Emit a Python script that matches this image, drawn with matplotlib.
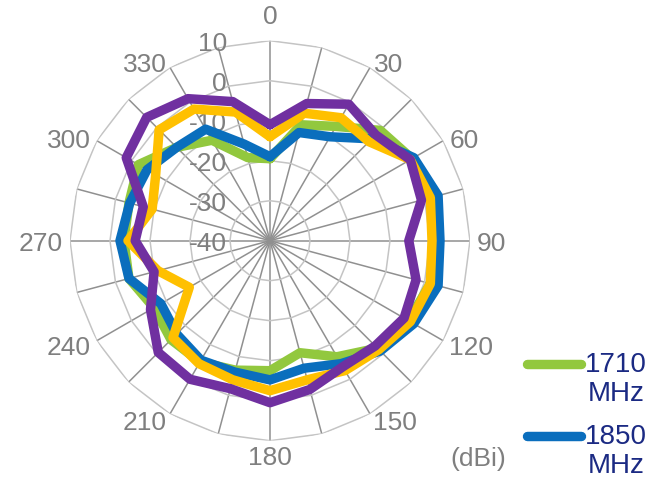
import numpy as np
import matplotlib
matplotlib.use("Agg")
import matplotlib.pyplot as plt
from matplotlib.transforms import offset_copy
from matplotlib.lines import Line2D

plt.rcParams['font.family'] = ['Liberation Sans', 'DejaVu Sans']

# ---------------- data ----------------
angles_deg = list(range(0, 360, 15))
angle_labels = ['0', '30', '60', '90', '120', '150', '180', '210', '240', '270', '300', '330']
radial_ticks = [10, 0, -10, -20, -30, -40]

s1710 = [-19.5, -10, -7, -1, 1, 2.5, 1.5, 1.5, 0, -2, -6.5, -11,
         -7.5, -6.5, -5, -5, -6.5, -3.5, -3.5, -3.5, -2, -7, -11, -18.5]
s1850 = [-19, -12, -10, -4, 1.5, 3.5, 2.5, 3.5, 1.5, -1, -4.5, -7,
         -5.2, -6, -5.5, -7, -8.5, -3.5, -2.5, -3.7, -4.5, -7, -7.8, -15]
s_yellow = [-14, -7, -4.5, -5, 0.5, 1.5, 0.5, 1.5, 0.5, -1.5, -2.5, -4,
            -2.5, -4, -4.5, -5.7, -16.7, -11, -4.5, -9.5, -7, -0.8, -2, -6.7]
s_purple = [-11, -4.5, -0.6, -2.6, 0.5, -0.8, -5.3, -2.2, -1.3, -2.8, -3.6, -1.5,
            0.5, -1.7, 0, -0.5, -5.5, -10, -6.3, -7.2, 1.5, 3.6, 1, -4]

legend_labels = ['1710\nMHz', '1850\nMHz']
unit_label = '(dBi)'

# ---------------- styling ----------------
W, H, DPI = 6.53, 4.85, 100
cx, cy, R = 270, 241.7, 200          # pixel geometry of the radar
rmin, rmax = -40, 10
GREEN, BLUE, YELLOW, PURPLE = '#92C83E', '#0A6EBD', '#FFC000', '#7030A0'
SPOKE, RING, LABEL = '#909090', '#C4C4C4', '#7F7F7F'
NAVY = '#1B2A83'
LW = 6.8

fig = plt.figure(figsize=(W, H), dpi=DPI)
fig.patch.set_facecolor('white')
ax = fig.add_axes([(cx - R) / (W * DPI), (H * DPI - (cy + R)) / (H * DPI),
                   2 * R / (W * DPI), 2 * R / (H * DPI)], projection='polar')
ax.set_theta_zero_location('N')
ax.set_theta_direction(-1)
ax.set_ylim(rmin, rmax)
ax.grid(False)
ax.spines['polar'].set_visible(False)
ax.set_xticks([])
ax.set_yticks([])
ax.patch.set_alpha(0)

th = np.deg2rad(angles_deg)
th_closed = np.append(th, th[0])

# spokes and polygon rings
for t in th:
    ax.plot([t, t], [rmin, rmax], color=SPOKE, lw=1.1, zorder=1)
for v in radial_ticks[:-1]:
    ax.plot(th_closed, [v] * len(th_closed), color=RING, lw=1.1, zorder=1)

# data series
for vals, col, z in [(s1710, GREEN, 3), (s1850, BLUE, 4), (s_yellow, YELLOW, 5), (s_purple, PURPLE, 6)]:
    v = np.append(vals, vals[0])
    ax.plot(th_closed, v, color=col, lw=LW, solid_joinstyle='round',
            solid_capstyle='round', zorder=z)

# radial tick labels (right aligned, left of the vertical axis)
tr = offset_copy(ax.transData, fig=fig, x=-43, y=0, units='dots')
for v in radial_ticks:
    ax.text(0, v, str(v), transform=tr, ha='right', va='center_baseline',
            fontsize=19, color=LABEL, zorder=2)


def px_to_data(dx, dy):
    """pixel offset from the centre (dy up) -> (theta, r) in data units"""
    return np.arctan2(dx, dy), np.hypot(dx, dy) / R * (rmax - rmin) + rmin


# angle labels: Excel-like anchoring just outside the outer ring
for lab in angle_labels:
    a = np.deg2rad(float(lab))
    s, c = np.sin(a), np.cos(a)
    if abs(s) < 0.01:
        r0 = 218 if c > 0 else 204
        t, r = px_to_data(0, r0 * np.sign(c))
        ax.text(t, r, lab, ha='center', va='baseline' if c > 0 else 'top',
                fontsize=19, color=LABEL, clip_on=False)
    else:
        r0 = 207
        t, r = px_to_data(r0 * s, r0 * c)
        ax.text(t, r, lab, ha='left' if s > 0 else 'right', va='center_baseline',
                fontsize=19, color=LABEL, clip_on=False)

# unit label
fig.text(450 / (W * DPI), 1 - 459 / (H * DPI), unit_label, ha='left', va='center',
         fontsize=19, color=LABEL)

# legend (manual, partially visible as in the reference)
fig.patches.append(plt.Rectangle((516 / (W * DPI), 0), 1, 335 / (H * DPI),
                                 transform=fig.transFigure, facecolor='white',
                                 edgecolor='none', zorder=8))
for (lab, col, yc) in zip(legend_labels, [GREEN, BLUE], [365, 437]):
    yf = 1 - yc / (H * DPI)
    fig.add_artist(Line2D([527 / (W * DPI), 581 / (W * DPI)], [yf, yf], color=col,
                          lw=LW, solid_capstyle='round', transform=fig.transFigure, zorder=9))
    first, second = lab.split('\n')
    fig.text(585 / (W * DPI), yf, first, ha='left', va='center', fontsize=20,
             color=NAVY, zorder=10)
    fig.text(588 / (W * DPI), 1 - (yc + 29) / (H * DPI), second, ha='left', va='center',
             fontsize=20, color=NAVY, zorder=10)

fig.savefig('out.png', dpi=DPI)
